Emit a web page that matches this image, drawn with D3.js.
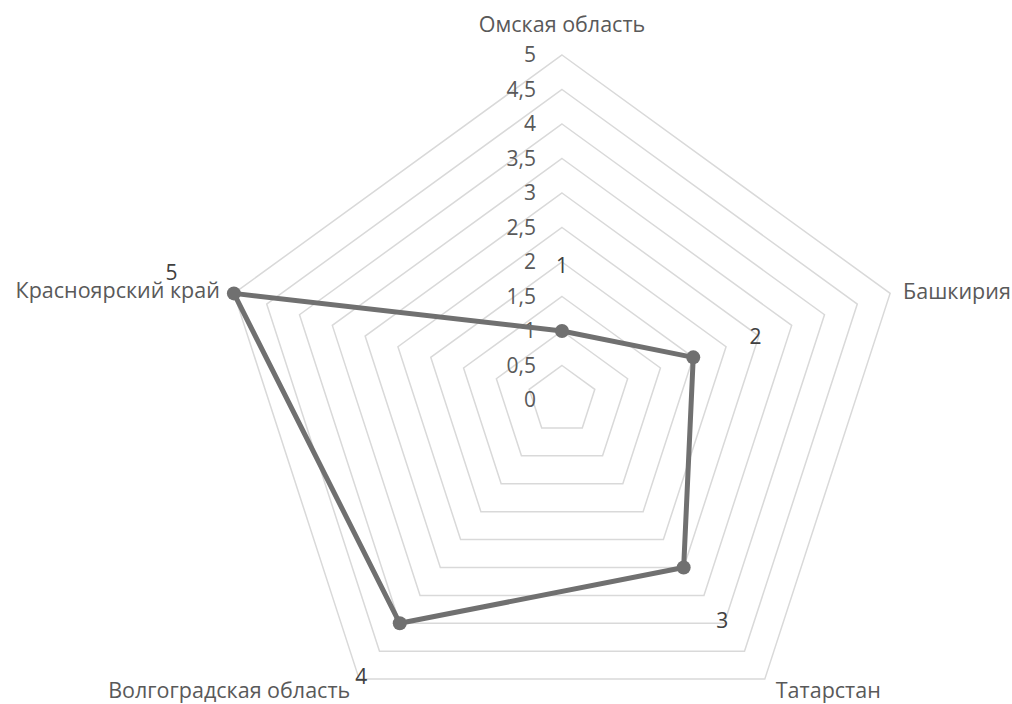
<!DOCTYPE html>
<html>
<head>
<meta charset="utf-8">
<script src="https://cdn.jsdelivr.net/npm/d3@7"></script>
<style>
  body { margin: 0; background: #fff; }
  text { font-family: "Open Sans", "Noto Sans", sans-serif; fill: #595959; }
</style>
</head>
<body>
<svg id="svg" width="1012" height="704"></svg>
<script>
const categories = ["Омская область", "Башкирия", "Татарстан", "Волгоградская область", "Красноярский край"]
const values = [1, 2, 3, 4, 5]
const ticks = [0, 0.5, 1, 1.5, 2, 2.5, 3, 3.5, 4, 4.5, 5]

const sizes = { width: 1012, height: 704 }
const center = { x: 562, y: 400 }
const radius = 345

const r = d3.scaleLinear().domain([0, 5]).range([0, radius])
const angle = d3.scaleLinear().domain([0, categories.length]).range([0, 2 * Math.PI])

const ru = d3.formatLocale({ decimal: ",", thousands: " ", grouping: [3], currency: ["", ""] })
const fmt = ru.format("~g")

// polar -> cartesian
const px = (i, v) => center.x + r(v) * Math.sin(angle(i))
const py = (i, v) => center.y - r(v) * Math.cos(angle(i))

const svg = d3.select("#svg")

// grid rings (skip 0, it is only the centre)
const ring = (v) => categories.map((c, i) => [px(i, v), py(i, v)])
svg.append("g")
  .selectAll("polygon")
  .data(ticks.filter(t => t > 0))
  .join("polygon")
    .attr("points", d => ring(d).map(p => p.join(",")).join(" "))
    .attr("fill", "none")
    .attr("stroke", "#d9d9d9")
    .attr("stroke-width", 1.5)

// value axis labels, left of the vertical axis
svg.append("g")
  .selectAll("text")
  .data(ticks)
  .join("text")
    .attr("x", center.x - 26)
    .attr("y", d => center.y - r(d))
    .attr("dy", "0.35em")
    .attr("text-anchor", "end")
    .attr("font-size", "21px")
    .text(d => fmt(d))

// category labels
const catPos = [
  { dx: 0, dy: -31, anchor: "middle" },
  { dx: 13, dy: -2, anchor: "start" },
  { dx: 11, dy: 11, anchor: "start" },
  { dx: -9, dy: 11, anchor: "end" },
  { dx: -14, dy: -3, anchor: "end" },
]
svg.append("g")
  .selectAll("text")
  .data(categories)
  .join("text")
    .attr("x", (d, i) => px(i, 5) + catPos[i].dx)
    .attr("y", (d, i) => py(i, 5) + catPos[i].dy)
    .attr("dy", "0.35em")
    .attr("text-anchor", (d, i) => catPos[i].anchor)
    .attr("font-size", "21.5px")
    .text(d => d)

// series line
const line = d3.line().curve(d3.curveLinearClosed)
svg.append("path")
  .datum(values.map((v, i) => [px(i, v), py(i, v)]))
  .attr("d", line)
  .attr("fill", "none")
  .attr("stroke", "#707070")
  .attr("stroke-width", 5)
  .attr("stroke-linejoin", "round")

svg.append("g")
  .attr("fill", "#707070")
  .selectAll("circle")
  .data(values)
  .join("circle")
    .attr("cx", (d, i) => px(i, d))
    .attr("cy", (d, i) => py(i, d))
    .attr("r", 7)

// data labels, pushed out by one unit
svg.append("g")
  .selectAll("text")
  .data(values)
  .join("text")
    .attr("x", (d, i) => px(i, d + 0.95))
    .attr("y", (d, i) => py(i, d + 0.95))
    .attr("dy", "0.35em")
    .attr("text-anchor", "middle")
    .attr("font-size", "21px")
    .style("fill", "#404040")
    .text(d => fmt(d))
</script>
</body>
</html>
